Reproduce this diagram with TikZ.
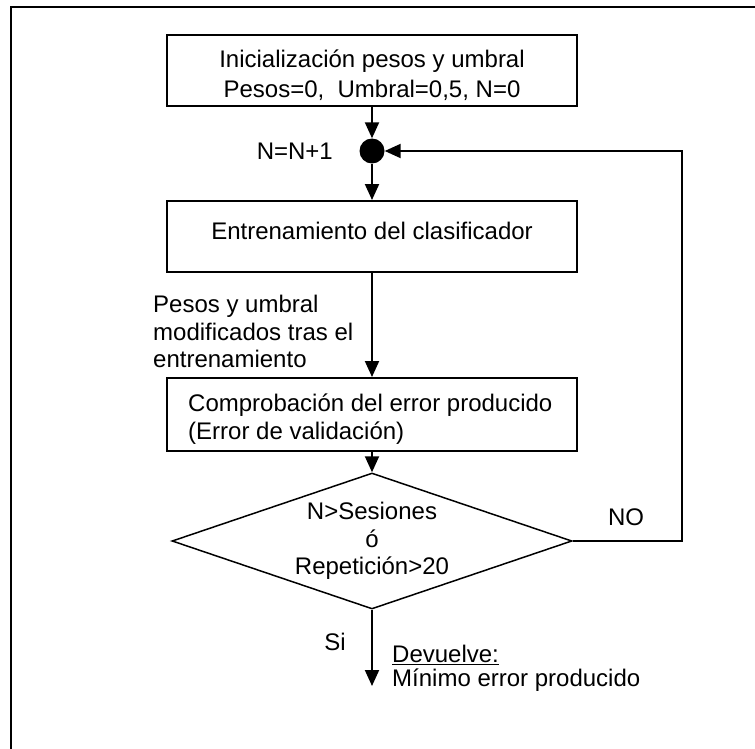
\documentclass[tikz,border=0pt]{standalone}
\usepackage{fontspec}
\setmainfont{Liberation Sans}
\usetikzlibrary{arrows.meta,shapes.geometric}
\begin{document}
\begin{tikzpicture}[x=1pt,y=-1pt,
  every node/.style={font=\fontsize{24}{27.5}\selectfont, inner sep=0pt},
  stepbox/.style={draw, line width=2pt, minimum width=410pt, minimum height=71pt},
  decision/.style={draw, diamond, line width=1.5pt, aspect=2.94,
                   minimum width=400pt, minimum height=136pt, align=center},
  flow/.style={line width=2pt, -{Triangle[length=16pt,width=14pt]}},
  dot/.style={circle, fill, minimum size=25pt}]
\useasboundingbox (0,0) rectangle (755,749);

% outer frame (only its top and left sides fall inside the page)
\begin{scope}
  \clip (0,0) rectangle (755,749);
  \draw[line width=2.5pt] (11,770) -- (11,7) -- (770,7);
\end{scope}

% initialisation
\node[stepbox] (init) at (372,70.5) {};
\node[align=center] (initText) at (372,75)
  {Inicialización pesos y umbral\\[2.5pt]Pesos=0,\ \ Umbral=0,5, N=0};

% counter junction
\node[dot] (join) at (372,151) {};
\node[anchor=east] (count) at (333,151) {N=N+1};

% training
\node[stepbox] (train) at (372,236.5) {};
\node (trainText) at (372,231) {Entrenamiento del clasificador};
\node[align=left, anchor=west] (trained) at (153,331.5)
  {Pesos y umbral\\modificados tras el\\entrenamiento};

% validation
\node[stepbox, minimum height=73pt] (check) at (372,414.5) {};
\node[align=left, anchor=west] (checkText) at (188,419)
  {Comprobación del error producido\\(Error de validación)};

% stopping test
\node[decision] (stop) at (372,541) {N>Sesiones\\ó\\Repetición>20};
\node (no) at (626,517) {NO};
\coordinate (turnB) at (682,541);
\coordinate (turnT) at (682,151);

% result
\coordinate (result) at (372,686);
\node (yes) at (335,642) {Si};
\node[anchor=west] (retA) at (392,655) {\underline{Devuelve:}};
\node[anchor=west] (retB) at (392,680) {Mínimo error producido};

% connectors
\draw[flow] (init) -- (join);
\draw[flow] (join) -- (train);
\draw[flow] (train) -- (check);
\draw[flow] (check) -- (stop);
\draw[flow] (stop.east) -- (turnB) -- (turnT) -- (join);
\draw[flow] (stop.south) -- (result);
\end{tikzpicture}
\end{document}
